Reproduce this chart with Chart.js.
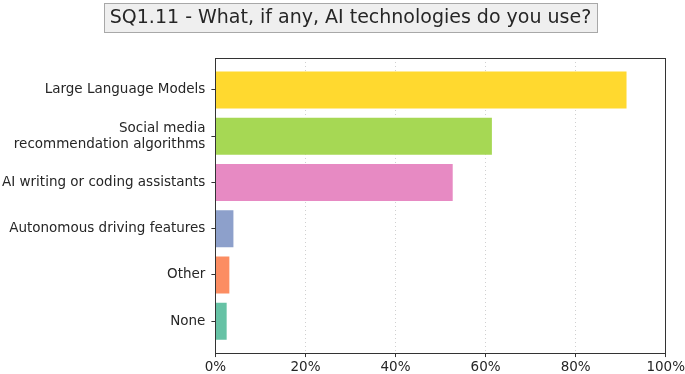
<!DOCTYPE html>
<html>
<head>
<meta charset="utf-8">
<script src="https://cdn.jsdelivr.net/npm/chart.js@4.4.1/dist/chart.umd.min.js"></script>
<style>
  html, body { margin: 0; padding: 0; background: #ffffff; }
  #wrap { width: 685px; height: 374px; }
</style>
</head>
<body>
<div id="wrap"><canvas id="c" width="685" height="374"></canvas></div>
<script>
const titleText = "SQ1.11 - What, if any, AI technologies do you use?";
const categories = [
  "Large Language Models",
  ["Social media", "recommendation algorithms"],
  "AI writing or coding assistants",
  "Autonomous driving features",
  "Other",
  "None"
];
const percentValues = [91.3, 61.4, 52.7, 4.0, 3.1, 2.5];
const barColors = ["#ffd92f", "#a6d854", "#e78ac3", "#8da0cb", "#fc8d62", "#66c2a5"];
const xTickValues = [0, 20, 40, 60, 80, 100];

const FONT = "'DejaVu Sans', 'Liberation Sans', sans-serif";
const TEXT = "#262626";
const TITLE_SIZE = 19;

const points = percentValues.map((v, i) => ({ x: v, y: i }));

const titleBoxPlugin = {
  id: 'titleBox',
  afterDraw(chart) {
    const ctx = chart.ctx;
    ctx.save();
    ctx.font = TITLE_SIZE + "px " + FONT;
    const w = ctx.measureText(titleText).width;
    const cx = 350.5;
    const padX = 6;
    const bx = Math.round(cx - w / 2 - padX) + 0.5;
    const by = 3.5;
    const bw = Math.round(w + padX * 2);
    const bh = 29;
    ctx.fillStyle = "#efefef";
    ctx.fillRect(bx, by, bw, bh);
    ctx.strokeStyle = "#a8a8a8";
    ctx.lineWidth = 1;
    ctx.strokeRect(bx, by, bw, bh);
    ctx.fillStyle = TEXT;
    ctx.textAlign = 'center';
    ctx.textBaseline = 'middle';
    ctx.fillText(titleText, cx, by + bh / 2 + 0.5);
    ctx.restore();
  },
  afterDatasetsDraw(chart) {
    const a = chart.chartArea;
    const ctx = chart.ctx;
    ctx.save();
    ctx.strokeStyle = "#333333";
    ctx.lineWidth = 1;
    ctx.strokeRect(Math.round(a.left) + 0.5, Math.round(a.top) + 0.5,
                   Math.round(a.right - a.left), Math.round(a.bottom - a.top));
    ctx.restore();
  }
};

new Chart(document.getElementById('c'), {
  type: 'bar',
  data: {
    datasets: [{
      data: points,
      backgroundColor: barColors,
      borderWidth: 0,
      categoryPercentage: 0.8,
      barPercentage: 1.0
    }]
  },
  options: {
    indexAxis: 'y',
    responsive: false,
    animation: false,
    devicePixelRatio: 1,
    layout: { padding: { left: -4, right: 0, top: 58, bottom: -4 } },
    plugins: {
      legend: { display: false },
      tooltip: { enabled: false },
      title: { display: false }
    },
    scales: {
      x: {
        type: 'linear',
        bounds: 'data',
        min: 0,
        max: 100,
        afterBuildTicks(scale) { scale.ticks = xTickValues.map(v => ({ value: v })); },
        ticks: {
          color: TEXT,
          font: { family: FONT, size: 13.5, lineHeight: 1.55 },
          padding: 0,
          callback: (v) => v + '%',
          maxRotation: 0
        },
        grid: {
          display: true,
          drawOnChartArea: true,
          color: '#d0d0d0',
          tickColor: '#333333',
          tickLength: 4
        },
        border: { display: true, color: '#333333', dash: [1, 3] }
      },
      y: {
        type: 'linear',
        bounds: 'data',
        offset: false,
        reverse: true,
        min: -0.69,
        max: 5.69,
        afterBuildTicks(scale) { scale.ticks = categories.map((_, i) => ({ value: i })); },
        ticks: {
          color: TEXT,
          font: { family: FONT, size: 13.5 },
          padding: 6,
          callback: (v) => categories[v]
        },
        grid: {
          display: true,
          offset: false,
          drawOnChartArea: false,
          color: '#333333',
          tickColor: '#333333',
          tickLength: 4
        },
        border: { display: true, color: '#333333' }
      }
    }
  },
  plugins: [titleBoxPlugin]
});
</script>
</body>
</html>
